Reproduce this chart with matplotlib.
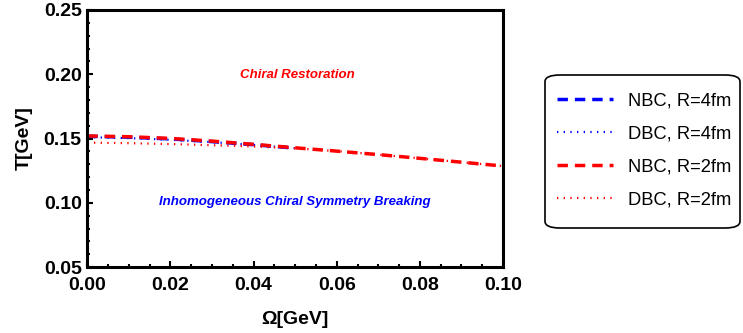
import numpy as np
import matplotlib.pyplot as plt
from matplotlib.patches import FancyBboxPatch
from matplotlib.ticker import MultipleLocator, FormatStrFormatter

plt.rcParams['font.family'] = ['Liberation Sans', 'DejaVu Sans']

# Omega [GeV] grid
omega_r4 = [0.00, 0.01, 0.02, 0.03, 0.04, 0.05]
omega_r2 = [0.00, 0.01, 0.02, 0.03, 0.04, 0.05, 0.06, 0.07, 0.08, 0.09, 0.10]

# critical temperatures [GeV]
t_nbc_r4 = [0.1518, 0.1510, 0.1497, 0.1476, 0.1452, 0.1425]
t_dbc_r4 = [0.1510, 0.1503, 0.1490, 0.1472, 0.1450, 0.1424]
t_nbc_r2 = [0.1520, 0.1514, 0.1501, 0.1480, 0.1455, 0.1428, 0.1402, 0.1375, 0.1346, 0.1316, 0.1286]
t_dbc_r2 = [0.1468, 0.1464, 0.1457, 0.1448, 0.1438, 0.1424, 0.1402, 0.1375, 0.1346, 0.1316, 0.1286]

labels = ["NBC, R=4fm", "DBC, R=4fm", "NBC, R=2fm", "DBC, R=2fm"]

fig = plt.figure(figsize=(7.43, 3.33), dpi=100)
ax = fig.add_axes([0.1175, 0.198, 0.5595, 0.772])

ax.plot(omega_r4, t_nbc_r4, color='blue', ls=(0, (3, 2)), lw=2.5, label=labels[0])
ax.plot(omega_r4, t_dbc_r4, color='blue', ls=(0, (0.6, 2.4)), lw=1.6, label=labels[1])
ax.plot(omega_r2, t_nbc_r2, color='red', ls=(0, (3, 2)), lw=2.5, label=labels[2])
ax.plot(omega_r2, t_dbc_r2, color='red', ls=(0, (0.6, 2.4)), lw=1.6, label=labels[3])

ax.text(0.0505, 0.1995, "Chiral Restoration", color='red', fontsize=9.5,
        fontweight='bold', fontstyle='italic', ha='center', va='center')
ax.text(0.050, 0.101, "Inhomogeneous Chiral Symmetry Breaking", color='blue',
        fontsize=9.5, fontweight='bold', fontstyle='italic', ha='center', va='center')

ax.set_xlim(0, 0.1)
ax.set_ylim(0.05, 0.25)
ax.xaxis.set_major_locator(MultipleLocator(0.02))
ax.xaxis.set_minor_locator(MultipleLocator(0.005))
ax.yaxis.set_major_locator(MultipleLocator(0.05))
ax.yaxis.set_minor_locator(MultipleLocator(0.01))
ax.xaxis.set_major_formatter(FormatStrFormatter('%.2f'))
ax.yaxis.set_major_formatter(FormatStrFormatter('%.2f'))
ax.tick_params(which='both', direction='in', top=False, right=False, width=1.5)
ax.tick_params(which='major', length=4, labelsize=14)
ax.tick_params(which='minor', length=2)
ax.tick_params(axis='x', which='major', pad=7.5)
ax.tick_params(axis='y', which='major', pad=4)
for lab in ax.get_xticklabels() + ax.get_yticklabels():
    lab.set_fontweight('bold')
for sp in ax.spines.values():
    sp.set_linewidth(2.2)

ax.set_xlabel("Ω[GeV]", fontsize=14, fontweight='bold', labelpad=12)
ax.set_ylabel("T[GeV]", fontsize=14, fontweight='bold', labelpad=8)

# legend box drawn separately (Mathematica-like rounded frame)
box = FancyBboxPatch((545 / 743, 105 / 333), 195 / 743, 153 / 333,
                     boxstyle='round,pad=0,rounding_size=0.02',
                     transform=fig.transFigure, facecolor='white',
                     edgecolor='black', lw=1.2)
fig.patches.append(box)
leg = fig.legend(loc='center left', bbox_to_anchor=(557 / 743, (333 - 150.5) / 333),
                 fontsize=13.2, frameon=False, handlelength=3.05,
                 labelspacing=0.87, borderpad=0.0, handletextpad=0.8,
                 borderaxespad=0.0)

fig.savefig("out.png", dpi=100)
